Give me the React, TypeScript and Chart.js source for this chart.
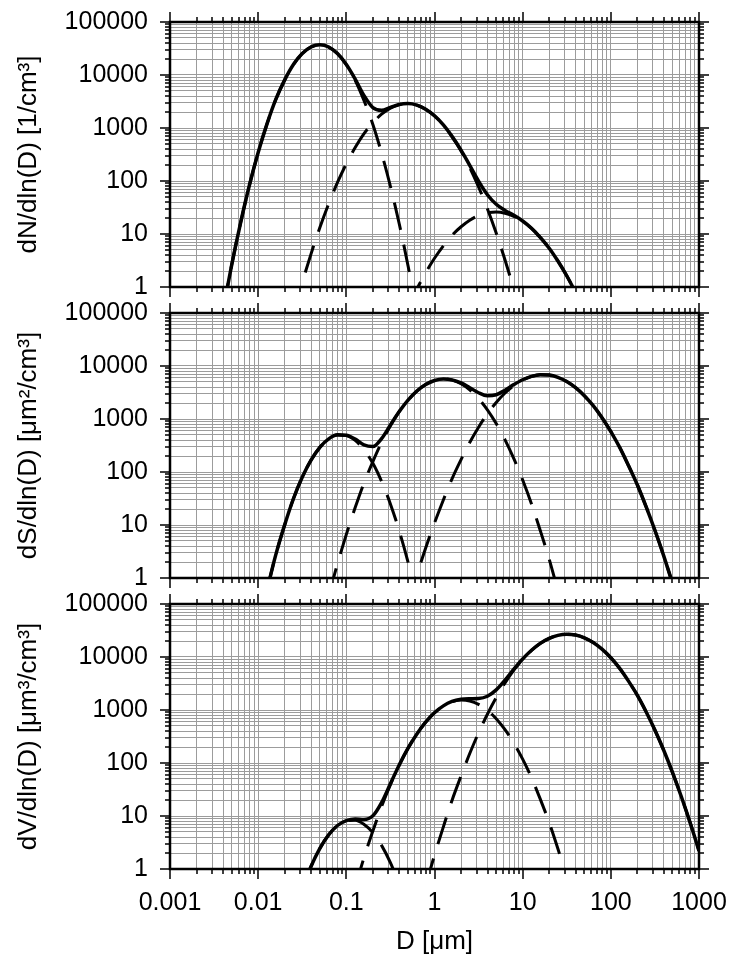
import React, { useEffect, useRef } from "react";
import { Chart, registerables } from "chart.js";

Chart.register(...registerables);

const _ = null;

// Particle diameter grid D [µm] (0.1-decade steps from 0.001 to 1000)
const D = [
  0.001, 0.00126, 0.00158, 0.002, 0.00251, 0.00316, 0.00398, 0.00501, 0.00631, 0.00794,
  0.01, 0.0126, 0.0158, 0.02, 0.0251, 0.0316, 0.0398, 0.0501, 0.0631, 0.0794,
  0.1, 0.126, 0.158, 0.2, 0.251, 0.316, 0.398, 0.501, 0.631, 0.794,
  1, 1.26, 1.58, 2, 2.51, 3.16, 3.98, 5.01, 6.31, 7.94,
  10, 12.6, 15.8, 20, 25.1, 31.6, 39.8, 50.1, 63.1, 79.4,
  100, 126, 158, 200, 251, 316, 398, 501, 631, 794,
  1000,
];

// ---- Number distribution dN/dln(D) [1/cm3]
const N_total = [
  _, _, _, _, _, _, 0.351, 2.62, 16.1, 82.1,
  345, 1195, 3420, 8085, 15780, 25430, 33820, 37160, 33730, 25320,
  15810, 8390, 4130, 2422, 2157, 2449, 2777, 2885, 2697, 2259,
  1698, 1144, 695, 383, 197, 99.6, 55.1, 36.4, 27.9, 22.5,
  17.6, 12.8, 8.66, 5.4, 3.09, 1.63, 0.786, 0.349, _, _,
  _, _, _, _, _, _, _, _, _, _,
  _,
];
const N_mode1 = [
  _, _, _, _, _, _, 0.351, 2.62, 16.1, 82.1,
  345, 1195, 3420, 8085, 15780, 25430, 33820, 37150, 33690, 25230,
  15600, 7963, 3356, 1168, 336, 79.6, 15.6, 2.52, 0.337, _,
  _, _, _, _, _, _, _, _, _, _,
  _, _, _, _, _, _, _, _, _, _,
  _, _, _, _, _, _, _, _, _, _,
  _,
];
const N_mode2 = [
  _, _, _, _, _, _, _, _, _, _,
  _, _, _, _, 0.308, 1.21, 4.22, 13.3, 37.3, 93.8,
  212, 427, 774, 1254, 1821, 2369, 2761, 2882, 2696, 2257,
  1694, 1138, 686, 370, 179, 77.3, 30.0, 10.4, 3.24, 0.902,
  0.225, _, _, _, _, _, _, _, _, _,
  _, _, _, _, _, _, _, _, _, _,
  _,
];
const N_mode3 = [
  _, _, _, _, _, _, _, _, _, _,
  _, _, _, _, _, _, _, _, _, _,
  _, _, _, _, _, _, _, 0.414, 0.915, 1.86,
  3.48, 5.97, 9.43, 13.7, 18.2, 22.3, 25.1, 26.0, 24.7, 21.6,
  17.3, 12.8, 8.66, 5.4, 3.09, 1.63, 0.786, 0.349, _, _,
  _, _, _, _, _, _, _, _, _, _,
  _,
];

// ---- Surface distribution dS/dln(D) [µm2/cm3]
const S_total = [
  _, _, _, _, _, _, _, _, _, _,
  _, 0.595, 2.7, 10.1, 31.3, 79.9, 168, 293, 422, 502,
  496, 418, 326, 303, 427, 769, 1382, 2275, 3372, 4477,
  5329, 5696, 5480, 4793, 3899, 3128, 2741, 2871, 3494, 4456,
  5512, 6387, 6841, 6749, 6125, 5107, 3913, 2755, 1783, 1060,
  579, 291, 134, 57.0, 22.2, 7.95, 2.62, 0.791, _, _,
  _,
];
const S_mode1 = [
  _, _, _, _, _, _, _, _, _, _,
  _, 0.595, 2.7, 10.1, 31.3, 79.9, 168, 293, 421, 500,
  490, 396, 265, 146, 66.5, 25.0, 7.76, 1.99, 0.421, _,
  _, _, _, _, _, _, _, _, _, _,
  _, _, _, _, _, _, _, _, _, _,
  _, _, _, _, _, _, _, _, _, _,
  _,
];
const S_mode2 = [
  _, _, _, _, _, _, _, _, _, _,
  _, _, _, _, _, _, _, _, 0.466, 1.86,
  6.64, 21.3, 61.0, 157, 361, 744, 1374, 2273, 3370, 4473,
  5318, 5666, 5406, 4622, 3538, 2427, 1491, 821, 405, 179,
  70.7, 25.0, 7.95, 2.26, 0.576, _, _, _, _, _,
  _, _, _, _, _, _, _, _, _, _,
  _,
];
const S_mode3 = [
  _, _, _, _, _, _, _, _, _, _,
  _, _, _, _, _, _, _, _, _, _,
  _, _, _, _, _, _, _, 0.326, 1.14, 3.69,
  10.9, 29.7, 74.4, 171, 361, 701, 1250, 2050, 3089, 4277,
  5441, 6362, 6833, 6747, 6124, 5107, 3913, 2755, 1783, 1060,
  579, 291, 134, 57.0, 22.2, 7.95, 2.62, 0.791, _, _,
  _,
];

// ---- Volume distribution dV/dln(D) [µm3/cm3]
const V_total = [
  _, _, _, _, _, _, _, _, _, _,
  _, _, _, _, _, 0.421, 1.12, 2.45, 4.43, 6.62,
  8.17, 8.77, 8.61, 10.1, 17.9, 40.6, 91.8, 190, 354, 593,
  889, 1195, 1448, 1595, 1633, 1650, 1820, 2399, 3675, 5900,
  9190, 13400, 18080, 22460, 25640, 26920, 25960, 23020, 18760, 14040,
  9661, 6107, 3548, 1894, 930, 419, 174, 66.1, 23.1, 7.44,
  2.2,
];
const V_mode1 = [
  _, _, _, _, _, _, _, _, _, _,
  _, _, _, _, _, 0.421, 1.12, 2.45, 4.43, 6.62,
  8.17, 8.32, 7.0, 4.86, 2.79, 1.32, 0.515, _, _, _,
  _, _, _, _, _, _, _, _, _, _,
  _, _, _, _, _, _, _, _, _, _,
  _, _, _, _, _, _, _, _, _, _,
  _,
];
const V_mode2 = [
  _, _, _, _, _, _, _, _, _, _,
  _, _, _, _, _, _, _, _, _, _,
  _, 0.447, 1.61, 5.22, 15.1, 39.2, 91.2, 190, 354, 592,
  887, 1189, 1428, 1538, 1482, 1280, 990, 686, 426, 237,
  118, 52.6, 21.0, 7.52, 2.41, 0.693, _, _, _, _,
  _, _, _, _, _, _, _, _, _, _,
  _,
];
const V_mode3 = [
  _, _, _, _, _, _, _, _, _, _,
  _, _, _, _, _, _, _, _, _, _,
  _, _, _, _, _, _, _, _, _, 0.488,
  1.82, 6.24, 19.7, 56.9, 151, 370, 830, 1713, 3249, 5663,
  9072, 13350, 18060, 22450, 25640, 26920, 25960, 23020, 18760, 14040,
  9661, 6107, 3548, 1894, 930, 419, 174, 66.1, 23.1, 7.44,
  2.2,
];

// ---- Axis ticks
const xLabelValues = [0.001, 0.01, 0.1, 1, 10, 100, 1000];
const xLabelTexts = ["0.001", "0.01", "0.1", "1", "10", "100", "1000"];
const yLabelValues = [1, 10, 100, 1000, 10000, 100000];
const yLabelTexts = ["1", "10", "100", "1000", "10000", "100000"];
const mantissas = [1, 2, 3, 4, 5, 6, 7, 8, 9];

const yTitles = [
  "dN/dln(D) [1/cm³]",
  "dS/dln(D) [μm²/cm³]",
  "dV/dln(D) [μm³/cm³]",
];
const xTitle = "D [μm]";

const panels = [
  { total: N_total, modes: [N_mode1, N_mode2, N_mode3] },
  { total: S_total, modes: [S_mode1, S_mode2, S_mode3] },
  { total: V_total, modes: [V_mode1, V_mode2, V_mode3] },
];

function buildTicks(labelValues: number[]) {
  const out: { value: number; major: boolean }[] = [];
  for (let i = 0; i < labelValues.length - 1; i++) {
    mantissas.forEach((m) => out.push({ value: m * labelValues[i], major: m === 1 }));
  }
  out.push({ value: labelValues[labelValues.length - 1], major: true });
  return out;
}
const xTicks = buildTicks(xLabelValues);
const yTicks = buildTicks(yLabelValues);

function labelFor(v: number, values: number[], texts: string[]) {
  const i = values.findIndex((l) => Math.abs(Math.log10(l) - Math.log10(v)) < 1e-6);
  return i >= 0 ? texts[i] : "";
}

const FAMILY = "'Liberation Sans', Arial, Helvetica, sans-serif";
const FONT = { family: FAMILY, size: 25 };
const TITLE_FONT = { family: FAMILY, size: 26 };
const GRID = "#9c9c9c";
const CLEAR = "rgba(0,0,0,0)";

const frameTicks = {
  id: "frameTicks",
  afterDraw(chart: any) {
    const { ctx, chartArea } = chart;
    const { left, right, top, bottom } = chartArea;
    const xs = chart.scales.x;
    const ys = chart.scales.y;
    ctx.save();
    ctx.strokeStyle = "#000";
    ctx.lineWidth = 1.5;
    ctx.beginPath();
    xTicks.forEach((t) => {
      const px = Math.round(xs.getPixelForValue(t.value));
      const len = t.major ? 10 : 5;
      ctx.moveTo(px, top);
      ctx.lineTo(px, top - len);
      ctx.moveTo(px, bottom);
      ctx.lineTo(px, bottom + len);
    });
    yTicks.forEach((t) => {
      const py = Math.round(ys.getPixelForValue(t.value));
      const len = t.major ? 10 : 5;
      ctx.moveTo(left, py);
      ctx.lineTo(left - len, py);
      ctx.moveTo(right, py);
      ctx.lineTo(right + len, py);
    });
    ctx.stroke();
    ctx.lineWidth = 2.5;
    ctx.strokeRect(left, top, right - left, bottom - top);
    ctx.restore();
  },
};

function toPoints(vals: (number | null)[]) {
  return D.map((d, i) => ({ x: d, y: vals[i] })).filter((p) => p.y !== null);
}

function Panel({ index, top, height, showX }: { index: number; top: number; height: number; showX: boolean }) {
  const ref = useRef<HTMLCanvasElement>(null);
  useEffect(() => {
    const p = panels[index];
    const datasets: any[] = [
      {
        data: toPoints(p.total),
        borderColor: "#000",
        borderWidth: 3.5,
        borderDash: [],
      },
      ...p.modes.map((m) => ({
        data: toPoints(m),
        borderColor: "#000",
        borderWidth: 3,
        borderDash: [28, 15],
      })),
    ].map((ds) => ({
      ...ds,
      pointRadius: 0,
      fill: false,
      cubicInterpolationMode: "monotone",
      borderJoinStyle: "round",
      clip: 0,
    }));

    const chart = new Chart(ref.current as HTMLCanvasElement, {
      type: "line",
      data: { datasets },
      options: {
        animation: false,
        responsive: false,
        maintainAspectRatio: false,
        layout: { padding: { left: 9, right: 32, top: 22, bottom: 0 } },
        plugins: { legend: { display: false }, tooltip: { enabled: false } },
        scales: {
          x: {
            type: "logarithmic",
            position: "bottom",
            min: 0.001,
            max: 1000,
            grid: { color: GRID, lineWidth: 1, drawTicks: true, tickLength: 19, tickColor: CLEAR },
            border: { display: false },
            afterBuildTicks: (s: any) => {
              s.ticks = xTicks.map((t) => ({ value: t.value, major: t.major }));
            },
            afterFit: (s: any) => {
              s.height = height - 22 - 265;
            },
            ticks: {
              display: showX,
              autoSkip: false,
              maxRotation: 0,
              minRotation: 0,
              padding: 0,
              color: "#000",
              font: FONT,
              callback: (v: any) => labelFor(Number(v), xLabelValues, xLabelTexts),
            },
            title: {
              display: showX,
              text: xTitle,
              color: "#000",
              font: TITLE_FONT,
              padding: { top: 0, bottom: 3 },
            },
          },
          y: {
            type: "logarithmic",
            position: "left",
            min: 1,
            max: 100000,
            grid: { color: GRID, lineWidth: 1, drawTicks: true, tickLength: 22, tickColor: CLEAR },
            border: { display: false },
            afterBuildTicks: (s: any) => {
              s.ticks = yTicks.map((t) => ({ value: t.value, major: t.major }));
            },
            afterFit: (s: any) => {
              s.width = 161;
            },
            ticks: {
              autoSkip: false,
              padding: 0,
              color: "#000",
              font: FONT,
              callback: (v: any) => labelFor(Number(v), yLabelValues, yLabelTexts),
            },
            title: {
              display: true,
              text: yTitles[index],
              color: "#000",
              font: TITLE_FONT,
              padding: { top: 4, bottom: 4 },
            },
          },
        },
      } as any,
      plugins: [frameTicks],
    });
    return () => chart.destroy();
  }, [index, height, showX]);

  return (
    <canvas
      ref={ref}
      width={731}
      height={height}
      style={{ position: "absolute", left: 0, top, display: "block" }}
    />
  );
}

export default function App() {
  return (
    <div style={{ position: "absolute", left: 0, top: 0, width: 731, height: 960, background: "#fff" }}>
      <Panel index={0} top={0} height={310} showX={false} />
      <Panel index={1} top={291} height={310} showX={false} />
      <Panel index={2} top={582} height={378} showX={true} />
    </div>
  );
}
